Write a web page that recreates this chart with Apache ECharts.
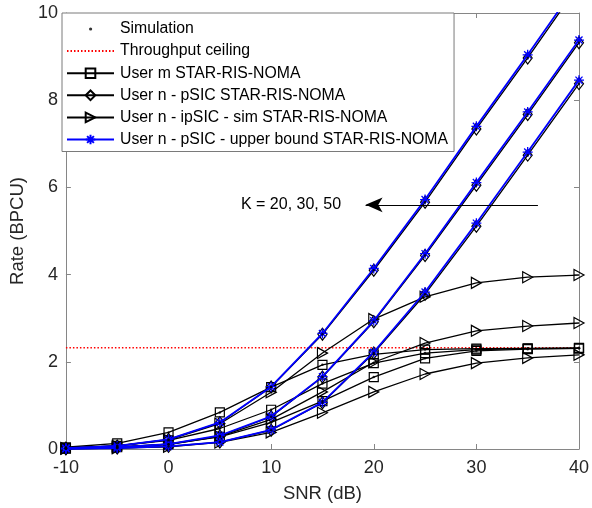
<!DOCTYPE html>
<html>
<head>
<meta charset="utf-8">
<script src="https://cdn.jsdelivr.net/npm/echarts@6/dist/echarts.min.js"></script>
<style>html,body{margin:0;padding:0;background:#fff}#c{width:592px;height:508px}</style>
</head>
<body>
<div id="c"></div>
<script>
// ---- data ----
const snr = [-10, -5, 0, 5, 10, 15, 20, 25, 30, 35, 40];
const xTicks = [-10, 0, 10, 20, 30, 40];
const yTicks = [0, 2, 4, 6, 8, 10];
const ceiling = 2.32;
// User m
const userM_K50 = [0.04, 0.13, 0.38, 0.84, 1.42, 1.93, 2.17, 2.28, 2.30, 2.31, 2.32];
const userM_K30 = [0.02, 0.07, 0.20, 0.47, 0.90, 1.50, 1.97, 2.20, 2.28, 2.30, 2.31];
const userM_K20 = [0.01, 0.04, 0.11, 0.28, 0.61, 1.10, 1.65, 2.08, 2.25, 2.29, 2.31];
// User n pSIC
const pSIC_K50 = [0.02, 0.07, 0.22, 0.60, 1.42, 2.63, 4.10, 5.66, 7.34, 8.97, 10.65];
const pSIC_K30 = [0.01, 0.04, 0.11, 0.30, 0.74, 1.65, 2.92, 4.44, 6.05, 7.67, 9.32];
const pSIC_K20 = [0.005, 0.02, 0.06, 0.16, 0.43, 1.06, 2.20, 3.55, 5.11, 6.74, 8.38];
// User n ipSIC
const ipSIC_K50 = [0.02, 0.07, 0.21, 0.58, 1.30, 2.20, 2.98, 3.49, 3.81, 3.94, 3.99];
const ipSIC_K30 = [0.01, 0.04, 0.10, 0.29, 0.68, 1.31, 1.99, 2.43, 2.71, 2.82, 2.89];
const ipSIC_K20 = [0.005, 0.02, 0.05, 0.15, 0.38, 0.83, 1.31, 1.72, 1.97, 2.09, 2.16];
// User n pSIC upper bound
const ub_K50 = [0.02, 0.07, 0.22, 0.61, 1.43, 2.65, 4.14, 5.72, 7.40, 9.04, 10.72];
const ub_K30 = [0.01, 0.04, 0.11, 0.31, 0.75, 1.66, 2.94, 4.48, 6.11, 7.73, 9.38];
const ub_K20 = [0.005, 0.02, 0.06, 0.16, 0.44, 1.07, 2.22, 3.60, 5.18, 6.81, 8.46];
const annotText = 'K = 20, 30, 50';
const arrowFrom = [36, 5.6], arrowTo = [19.2, 5.6], annotAt = [17.2, 5.6];

const names = {
  sim: 'Simulation',
  ceil: 'Throughput ceiling',
  m: 'User m STAR-RIS-NOMA',
  p: 'User n - pSIC STAR-RIS-NOMA',
  ip: 'User n - ipSIC - sim STAR-RIS-NOMA',
  ub: 'User n - pSIC - upper bound STAR-RIS-NOMA'
};
const pair = arr => snr.map((x, i) => [x, arr[i]]);
const FONT = "'Liberation Sans', Arial, Helvetica, sans-serif";
const star = 'path://M0,-10L0,10M-10,0L10,0M-7.07,-7.07L7.07,7.07M-7.07,7.07L7.07,-7.07';

function blackSeries(name, arr, symbol, size, rotate) {
  return {
    name, type: 'line', data: pair(arr), symbol, symbolSize: size, symbolRotate: rotate || 0,
    showAllSymbol: true, clip: true,
    lineStyle: { color: '#000', width: 1.3 },
    itemStyle: { color: 'rgba(0,0,0,0)', borderColor: '#000', borderWidth: 1.2 },
    z: 3
  };
}
function blueSeries(arr) {
  return {
    name: names.ub, type: 'line', data: pair(arr), symbol: star, symbolSize: 10,
    showAllSymbol: true, clip: true,
    lineStyle: { color: '#0000ff', width: 1.8 },
    itemStyle: { color: 'none', borderColor: '#0000ff', borderWidth: 1.3 },
    z: 4
  };
}

const simData = [].concat(pair(userM_K50), pair(userM_K30), pair(userM_K20),
  pair(pSIC_K50), pair(pSIC_K30), pair(pSIC_K20));

const series = [
  {
    name: names.ceil, type: 'line', data: [[snr[0], ceiling], [snr[snr.length - 1], ceiling]],
    symbol: 'none', lineStyle: { color: '#ff0000', width: 1.5, type: [1.5, 2] },
    itemStyle: { color: '#ff0000' }, z: 2
  },
  blackSeries(names.m, userM_K50, 'rect', 9),
  blackSeries(names.m, userM_K30, 'rect', 9),
  blackSeries(names.m, userM_K20, 'rect', 9),
  blackSeries(names.p, pSIC_K50, 'diamond', [9, 12]),
  blackSeries(names.p, pSIC_K30, 'diamond', [9, 12]),
  blackSeries(names.p, pSIC_K20, 'diamond', [9, 12]),
  blackSeries(names.ip, ipSIC_K50, 'triangle', [11, 10], -90),
  blackSeries(names.ip, ipSIC_K30, 'triangle', [11, 10], -90),
  blackSeries(names.ip, ipSIC_K20, 'triangle', [11, 10], -90),
  blueSeries(ub_K50),
  blueSeries(ub_K30),
  blueSeries(ub_K20),
  {
    name: names.sim, type: 'scatter', data: simData, symbol: 'circle', symbolSize: 2.5,
    itemStyle: { color: '#000' }, z: 6
  },
  {
    name: 'annot', type: 'line', data: [], z: 5,
    markLine: {
      silent: true, symbol: ['none', 'arrow'], symbolSize: [11, 17],
      lineStyle: { color: '#000', width: 1, type: 'solid' },
      label: { show: false },
      data: [[{ coord: arrowFrom }, { coord: arrowTo }]]
    },
    markPoint: {
      silent: true, symbol: 'circle', symbolSize: 0,
      label: { show: true, position: 'left', distance: 4, formatter: annotText,
        color: '#000', fontSize: 16, fontFamily: FONT },
      data: [{ coord: annotAt }]
    }
  }
];

const axisLineGray = '#868686';
const chart = echarts.init(document.getElementById('c'), null, { renderer: 'canvas' });
chart.setOption({
  animation: false,
  backgroundColor: '#fff',
  textStyle: { fontFamily: FONT },
  grid: { left: 63, right: 10, top: 13, bottom: 59 },
  legend: {
    data: [
      { name: names.sim, icon: 'path://M0,0M47,12M22,6a1.6,1.6 0 1,0 3.2,0a1.6,1.6 0 1,0 -3.2,0z' },
      { name: names.ceil, itemStyle: { opacity: 0, color: 'rgba(0,0,0,0)', borderColor: 'rgba(0,0,0,0)' } },
      names.m, names.p, names.ip, names.ub
    ],
    orient: 'vertical', left: 62, top: 13,
    itemWidth: 47, itemHeight: 12, itemGap: 6.1,
    padding: [8, 6, 4, 4],
    backgroundColor: '#fff', borderColor: '#7a7a7a', borderWidth: 1, borderRadius: 0,
    textStyle: { fontSize: 15.8, color: '#000', fontFamily: FONT, padding: [0, 0, 0, 1] },
    selectedMode: false
  },
  xAxis: [
    {
      type: 'value', min: xTicks[0], max: xTicks[xTicks.length - 1], interval: 10,
      name: 'SNR (dB)', nameLocation: 'middle', nameGap: 35,
      nameTextStyle: { fontSize: 18.5, color: '#262626', fontFamily: FONT },
      axisLine: { show: true, onZero: false, lineStyle: { color: axisLineGray, width: 1 } },
      axisTick: { show: true, inside: true, length: 5, lineStyle: { color: axisLineGray } },
      axisLabel: { fontSize: 18, color: '#262626', margin: 10, fontFamily: FONT },
      splitLine: { show: false }
    },
    {
      type: 'value', position: 'top', min: xTicks[0], max: xTicks[xTicks.length - 1], interval: 10,
      axisLine: { show: true, onZero: false, lineStyle: { color: axisLineGray, width: 1 } },
      axisTick: { show: true, inside: true, length: 5, lineStyle: { color: axisLineGray } },
      axisLabel: { show: false }, splitLine: { show: false }
    }
  ],
  yAxis: [
    {
      type: 'value', min: yTicks[0], max: yTicks[yTicks.length - 1], interval: 2,
      name: 'Rate (BPCU)', nameLocation: 'middle', nameGap: 35,
      nameTextStyle: { fontSize: 18.5, color: '#262626', fontFamily: FONT },
      axisLine: { show: true, onZero: false, lineStyle: { color: axisLineGray, width: 1 } },
      axisTick: { show: true, inside: true, length: 5, lineStyle: { color: axisLineGray } },
      axisLabel: { fontSize: 18, color: '#262626', margin: 8, fontFamily: FONT },
      splitLine: { show: false }
    },
    {
      type: 'value', position: 'right', min: yTicks[0], max: yTicks[yTicks.length - 1], interval: 2,
      axisLine: { show: true, onZero: false, lineStyle: { color: axisLineGray, width: 1 } },
      axisTick: { show: true, inside: true, length: 5, lineStyle: { color: axisLineGray } },
      axisLabel: { show: false }, splitLine: { show: false }
    }
  ],
  series
});
</script>
</body>
</html>
